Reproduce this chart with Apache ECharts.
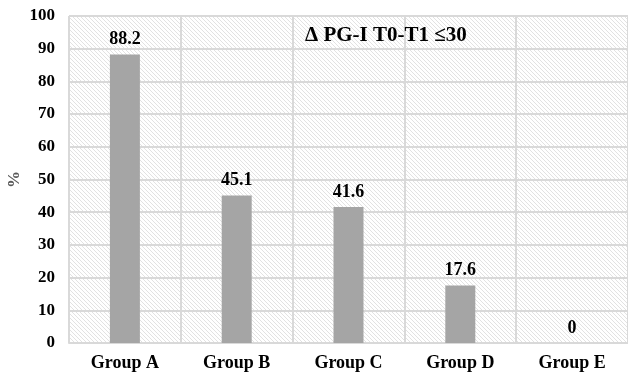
<!DOCTYPE html>
<html><head><meta charset="utf-8">
<script src="https://cdn.jsdelivr.net/npm/echarts@6/dist/echarts.min.js"></script>
<style>html,body{margin:0;padding:0;background:#fff}#c{width:628px;height:374px}</style>
</head><body><div id="c"></div>
<script>
const categories = ['Group A', 'Group B', 'Group C', 'Group D', 'Group E'];
const values = [88.2, 45.1, 41.6, 17.6, 0];
const chartTitle = 'Δ PG-I T0-T1 ≤30';
const yName = '%';

const tile = document.createElement('canvas');
tile.width = 4; tile.height = 4;
const g = tile.getContext('2d');
g.fillStyle = '#fff'; g.fillRect(0, 0, 4, 4);
g.strokeStyle = '#e2e2e2'; g.lineWidth = 1;
g.beginPath();
g.moveTo(-1, -1); g.lineTo(5, 5);
g.moveTo(-1, 3); g.lineTo(1, 5);
g.moveTo(3, -1); g.lineTo(5, 1);
g.stroke();

const font = '"Liberation Serif", "Times New Roman", serif';
const chart = echarts.init(document.getElementById('c'), null, {renderer: 'canvas'});
chart.setOption({
  animation: false,
  title: {
    text: chartTitle, left: 300, top: 20,
    textStyle: {fontFamily: font, fontWeight: 'bold', fontSize: 21, color: '#000'}
  },
  grid: {
    left: 69, right: 0, top: 16, bottom: 31, show: true, containLabel: false,
    outerBoundsMode: 'none',
    backgroundColor: {image: tile, repeat: 'repeat'}, borderWidth: 0
  },
  xAxis: {
    type: 'category', data: categories,
    axisLine: {show: true, lineStyle: {color: '#d9d9d9', width: 2}},
    axisTick: {show: false},
    splitLine: {show: true, lineStyle: {color: '#d9d9d9', width: 2}},
    axisLabel: {margin: 11, fontFamily: font, fontWeight: 'bold', fontSize: 18, color: '#000'}
  },
  yAxis: {
    type: 'value', min: 0, max: 100, interval: 10,
    name: yName, nameLocation: 'middle', nameGap: 46, nameRotate: 90,
    nameMoveOverlap: false,
    nameTextStyle: {fontFamily: font, fontSize: 17, color: '#595959', fontWeight: 'bold'},
    axisLine: {show: false}, axisTick: {show: false},
    splitLine: {show: true, lineStyle: {color: '#d9d9d9', width: 2}},
    axisLabel: {margin: 14, fontFamily: font, fontWeight: 'bold', fontSize: 17, color: '#000'}
  },
  series: [{
    type: 'bar', data: values, barWidth: 30,
    itemStyle: {color: '#a5a5a5'},
    label: {show: true, position: 'top', distance: 6, fontFamily: font, fontWeight: 'bold', fontSize: 18, color: '#000'}
  }]
});
</script></body></html>
